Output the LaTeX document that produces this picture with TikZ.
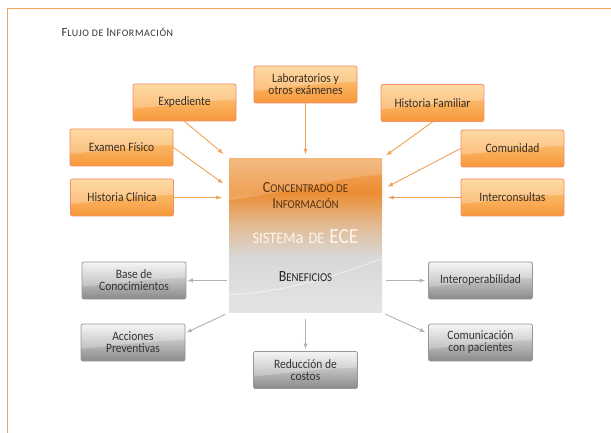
\documentclass[tikz,border=0pt]{standalone}
\usepackage{fontspec}
\setmainfont{Carlito}[FakeStretch=0.9]
\newfontfamily\titulofont{Carlito}[LetterSpace=6]
\usepackage{tikz}
\usetikzlibrary{shapes,arrows,positioning,shadings}
\definecolor{naranja}{RGB}{247, 152, 58}
\definecolor{naranjaclaro}{RGB}{253, 206, 134}
\definecolor{salmon}{RGB}{243, 140, 104}
\definecolor{flecha}{RGB}{240, 160, 85}
\definecolor{grisclaro}{RGB}{242, 242, 242}
\definecolor{grisoscuro}{RGB}{138, 138, 138}
\definecolor{grisborde}{RGB}{150, 150, 150}
\definecolor{flechagris}{RGB}{178, 178, 178}
\definecolor{marco}{RGB}{245, 165, 90}
\definecolor{texto}{RGB}{55, 45, 35}
\definecolor{ecetop}{RGB}{241, 172, 104}
\definecolor{ecenaranja}{RGB}{236, 141, 50}
\definecolor{ecebeige}{RGB}{226, 188, 150}
\definecolor{ecegris}{RGB}{216, 216, 216}
\definecolor{ecegrisclaro}{RGB}{228, 228, 228}
\definecolor{ecetexto}{RGB}{85, 50, 20}
\pgfdeclareverticalshading{ecefondo}{100bp}{color(0bp)=(ecegrisclaro); color(25bp)=(ecegrisclaro); color(43bp)=(ecegris); color(53bp)=(ecebeige); color(64bp)=(ecenaranja); color(75bp)=(ecetop); color(100bp)=(ecetop)}
\tikzstyle{fuente} = [rectangle, rounded corners=2pt, draw=salmon, line width=0.8pt, top color=naranjaclaro, bottom color=naranja, text=texto, minimum width=103pt, minimum height=37pt, inner sep=2pt, align=center, font=\fontsize{12.8}{12}\selectfont, path picture={\fill[white, opacity=.25] (path picture bounding box.north west) -- (path picture bounding box.north east) -- ([yshift=-16pt]path picture bounding box.north east) .. controls ([xshift=-40pt, yshift=-17pt]path picture bounding box.north east) and ([xshift=30pt, yshift=-22pt]path picture bounding box.north west) .. ([yshift=-25pt]path picture bounding box.north west) -- cycle;}]
\tikzstyle{beneficio} = [rectangle, rounded corners=2pt, draw=grisborde, line width=0.8pt, top color=grisclaro, bottom color=grisoscuro, text=black!80, minimum width=104pt, minimum height=37pt, inner sep=2pt, align=center, font=\fontsize{12.8}{12}\selectfont, path picture={\fill[white, opacity=.25] (path picture bounding box.north west) -- (path picture bounding box.north east) -- ([yshift=-16pt]path picture bounding box.north east) .. controls ([xshift=-40pt, yshift=-17pt]path picture bounding box.north east) and ([xshift=30pt, yshift=-22pt]path picture bounding box.north west) .. ([yshift=-25pt]path picture bounding box.north west) -- cycle;}]
\tikzstyle{centro} = [rectangle, shading=ecefondo, minimum width=153pt, minimum height=154pt, inner sep=0pt]
\tikzstyle{textonly} = [draw=none, fill=none, align=center]
\tikzstyle{entrada} = [draw=flecha, line width=0.9pt, >=latex, ->]
\tikzstyle{salida} = [draw=flechagris, line width=0.9pt, >=latex, ->]
\newcommand{\mayor}{\fontsize{15.5}{15.5}\selectfont}
\newcommand{\menor}{\fontsize{12}{12}\selectfont}

\begin{document}
\begin{tikzpicture}[on grid]
\useasboundingbox (0,0) rectangle (611pt,-433pt);

% marco
\draw[marco, line width=1pt] (7pt,-433pt) |- (611pt,-8.5pt);
\node[textonly, anchor=west, text=black!80, font=\titulofont] (titulo) at (58pt,-32pt) {{\fontsize{12.5}{12}\selectfont F}{\fontsize{10}{10}\selectfont LUJO DE} {\fontsize{12.5}{12}\selectfont I}{\fontsize{10}{10}\selectfont NFORMACIÓN}};

% sistema de ECE =========================
\node[centro] (ece) at (305.5pt,-235.5pt) {};
\fill[white, opacity=.18] (ece.north west) -- (ece.north east) -- ([yshift=-16pt]ece.north east) .. controls ([xshift=-50pt, yshift=-20pt]ece.north east) and ([xshift=50pt, yshift=-36pt]ece.north west) .. ([yshift=-42pt]ece.north west) -- cycle;
\draw[white, opacity=.5, line width=1pt] ([yshift=18pt]ece.south west) .. controls ([xshift=60pt, yshift=20pt]ece.south west) and ([xshift=-40pt, yshift=40pt]ece.south east) .. ([yshift=54pt]ece.south east);
\node[textonly, above=40pt of ece, text=ecetexto, font=\fontsize{12}{16}\selectfont] (concentrado) {{\mayor C}{\menor ONCENTRADO DE}\\{\mayor I}{\menor NFORMACIÓN}};
\node[textonly, below=1.5pt of ece, text=white!92!orange] (sistema) {{\fontsize{16}{16}\selectfont SISTEM}{\fontsize{18}{18}\selectfont a}\hspace{5pt}{\fontsize{16}{16}\selectfont DE}\hspace{5pt}{\fontsize{21.5}{21.5}\selectfont ECE}};
\node[textonly, below=41.5pt of ece, text=black!85] (beneficios) {{\mayor B}{\menor ENEFICIOS}};

% fuentes ================================
\node[fuente, above left=133pt and 121pt of ece] (expediente) {Expediente};
\node[fuente, above=151pt of ece] (laboratorios) {Laboratorios y\\otros exámenes};
\node[fuente, above right=132.5pt and 127pt of ece] (hfamiliar) {Historia Familiar};
\node[fuente, above left=88pt and 184pt of ece] (efisico) {Examen Físico};
\node[fuente, above right=87pt and 207pt of ece] (comunidad) {Comunidad};
\node[fuente, above left=38pt and 183.5pt of ece] (hclinica) {Historia Clínica};
\node[fuente, above right=38pt and 207pt of ece] (interconsultas) {Interconsultas};

% beneficios =============================
\node[beneficio, below left=45pt and 171.5pt of ece] (base) {Base de\\Conocimientos};
\node[beneficio, below right=45pt and 175pt of ece] (interop) {Interoperabilidad};
\node[beneficio, below left=107pt and 172.5pt of ece] (acciones) {Acciones\\Preventivas};
\node[beneficio, below right=107pt and 175pt of ece] (comunicacion) {Comunicación\\con pacientes};
\node[beneficio, below=134.5pt of ece] (reduccion) {Reducción de\\costos};

%edges entrada
\path[entrada, shorten >=7pt] (expediente.south) -- (ece.north west);
\path[entrada, shorten >=4pt] (laboratorios) -- (laboratorios |- ece.north);
\path[entrada, shorten >=5pt] (hfamiliar.south) -- (ece.north east);
\path[entrada, shorten >=7pt] (efisico.east) -- ([yshift=48pt]ece.west);
\path[entrada, shorten >=6pt] (comunidad.west) -- ([yshift=46pt]ece.east);
\path[entrada, shorten >=7pt] (hclinica) -- (hclinica -| ece.west);
\path[entrada, shorten >=6pt] (interconsultas) -- (interconsultas -| ece.east);

%edges salida
\path[salida, shorten <=2pt, shorten >=1pt] (base -| ece.west) -- (base);
\path[salida, shorten <=4pt, shorten >=3pt] (interop -| ece.east) -- (interop);
\path[salida, shorten <=4pt, shorten >=1pt] (ece.south west) -- ([yshift=9.5pt]acciones.east);
\path[salida, shorten <=3pt, shorten >=3pt] (ece.south east) -- ([yshift=9pt]comunicacion.west);
\path[salida, shorten <=6pt, shorten >=2pt] (reduccion |- ece.south) -- (reduccion);

\end{tikzpicture}
\end{document}
